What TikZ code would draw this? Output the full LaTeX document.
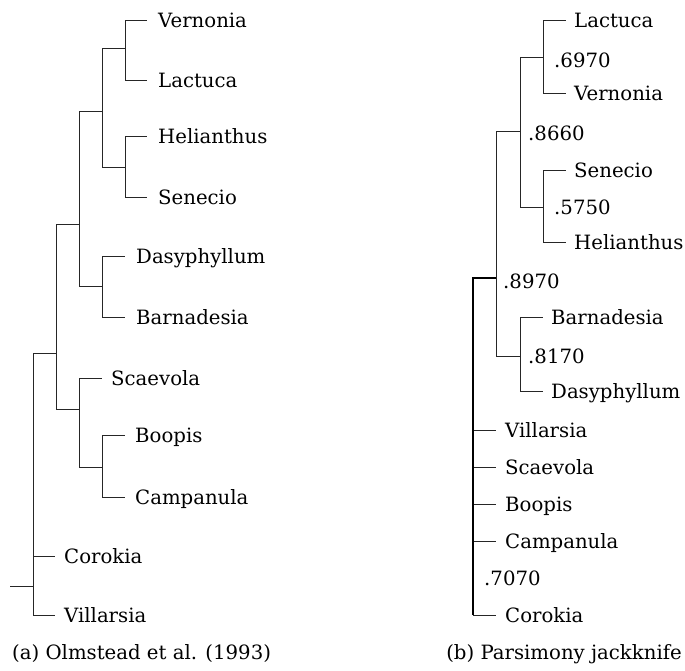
\documentclass[tikz,border=0pt]{standalone}
\usepackage{fontspec}
\setmainfont{DejaVu Serif}
\begin{document}
\begin{tikzpicture}[x=1pt,y=-1pt,
  every node/.style={font=\fontsize{19.7}{24}\selectfont, inner sep=0pt,
    text height=14.4pt, text depth=0pt, anchor=west},
  branch/.style={line width=1pt, draw=black!85},
  trunk/.style={line width=1.6pt, draw=black},
  leafA/.style={inner xsep=11pt},
  leafB/.style={inner xsep=8pt},
  support/.style={},
  caption/.style={}]
\useasboundingbox (0,0) rectangle (685,670);

% ---------- (a) Olmstead et al. (1993) ----------
\node[leafA] (aVern) at (147,20)  {Vernonia};
\node[leafA] (aLact) at (147,80)  {Lactuca};
\node[leafA] (aHeli) at (147,136) {Helianthus};
\node[leafA] (aSene) at (147,197) {Senecio};
\node[leafA] (aDasy) at (125,256) {Dasyphyllum};
\node[leafA] (aBarn) at (125,317) {Barnadesia};
\node[leafA,inner xsep=9pt] (aScae) at (102,378) {Scaevola};
\node[leafA,inner xsep=10pt] (aBoop) at (125,435) {Boopis};
\node[leafA,inner xsep=10pt] (aCamp) at (125,497) {Campanula};
\node[leafA,inner xsep=9pt] (aCoro) at (55,556)  {Corokia};
\node[leafA,inner xsep=9pt] (aVill) at (55,615)  {Villarsia};

\coordinate (aVL) at (125,48);
\coordinate (aHS) at (125,167);
\coordinate (aAst) at (102,111);
\coordinate (aDB) at (102,286);
\coordinate (aAsD) at (79,224);
\coordinate (aBC) at (102,467);
\coordinate (aGood) at (79,409);
\coordinate (aCore) at (56,353);
\coordinate (aRoot) at (33,586);
\coordinate (aStub) at (10,586);

\draw[branch] (aVL) |- (aVern.west);
\draw[branch] (aVL) |- (aLact.west);
\draw[branch] (aHS) |- (aHeli.west);
\draw[branch] (aHS) |- (aSene.west);
\draw[branch] (aAst) |- (aVL);
\draw[branch] (aAst) |- (aHS);
\draw[branch] (aDB) |- (aDasy.west);
\draw[branch] (aDB) |- (aBarn.west);
\draw[branch] (aAsD) |- (aAst);
\draw[branch] (aAsD) |- (aDB);
\draw[branch] (aBC) |- (aBoop.west);
\draw[branch] (aBC) |- (aCamp.west);
\draw[branch] (aGood) |- (aScae.west);
\draw[branch] (aGood) |- (aBC);
\draw[branch] (aCore) |- (aAsD);
\draw[branch] (aCore) |- (aGood);
\draw[branch] (aRoot) |- (aCore);
\draw[branch] (aRoot) |- (aCoro.west);
\draw[branch] (aRoot) |- (aVill.west);
\draw[branch] (aStub) -- (aRoot);

\node[caption] (capA) at (12,652) {(a) Olmstead et al. (1993)};

% ---------- (b) Parsimony jackknife ----------
\node[leafB] (bLact) at (566,20)  {Lactuca};
\node[leafB] (bVern) at (566,93)  {Vernonia};
\node[leafB] (bSene) at (566,170) {Senecio};
\node[leafB] (bHeli) at (566,242) {Helianthus};
\node[leafB,inner xsep=8pt] (bBarn) at (543,317) {Barnadesia};
\node[leafB,inner xsep=8pt] (bDasy) at (543,391) {Dasyphyllum};
\node[leafB,inner xsep=9pt] (bVill) at (496,430) {Villarsia};
\node[leafB,inner xsep=9pt] (bScae) at (496,467) {Scaevola};
\node[leafB,inner xsep=9pt] (bBoop) at (496,504) {Boopis};
\node[leafB,inner xsep=9pt] (bCamp) at (496,541) {Campanula};
\node[leafB,inner xsep=9pt] (bCoro) at (496,615) {Corokia};

\coordinate (bLV) at (543,57);
\coordinate (bSH) at (543,207);
\coordinate (bAst) at (520,131);
\coordinate (bBD) at (520,356);
\coordinate (bAsD) at (496,278);
\coordinate (bRoot) at (473,615);

\draw[branch] (bLV) |- (bLact.west);
\draw[branch] (bLV) |- (bVern.west);
\draw[branch] (bSH) |- (bSene.west);
\draw[branch] (bSH) |- (bHeli.west);
\draw[branch] (bAst) |- (bLV);
\draw[branch] (bAst) |- (bSH);
\draw[branch] (bBD) |- (bBarn.west);
\draw[branch] (bBD) |- (bDasy.west);
\draw[branch] (bAsD) |- (bAst);
\draw[branch] (bAsD) |- (bBD);
\draw[branch] (bRoot) |- (bVill.west);
\draw[branch] (bRoot) |- (bScae.west);
\draw[branch] (bRoot) |- (bBoop.west);
\draw[branch] (bRoot) |- (bCamp.west);
\draw[branch] (bRoot) -- (bCoro.west);
\draw[trunk] (bRoot) |- (bAsD);

\node[support] (sLV)  at (554,60)  {.6970};
\node[support] (sSH)  at (554,207) {.5750};
\node[support] (sAst) at (528,133) {.8660};
\node[support] (sBD)  at (528,356) {.8170};
\node[support] (sAsD) at (503,281) {.8970};
\node[support] (sRoot) at (484,578) {.7070};

\node[caption,anchor=east] (capB) at (682,652) {(b) Parsimony jackknife};
\end{tikzpicture}
\end{document}
